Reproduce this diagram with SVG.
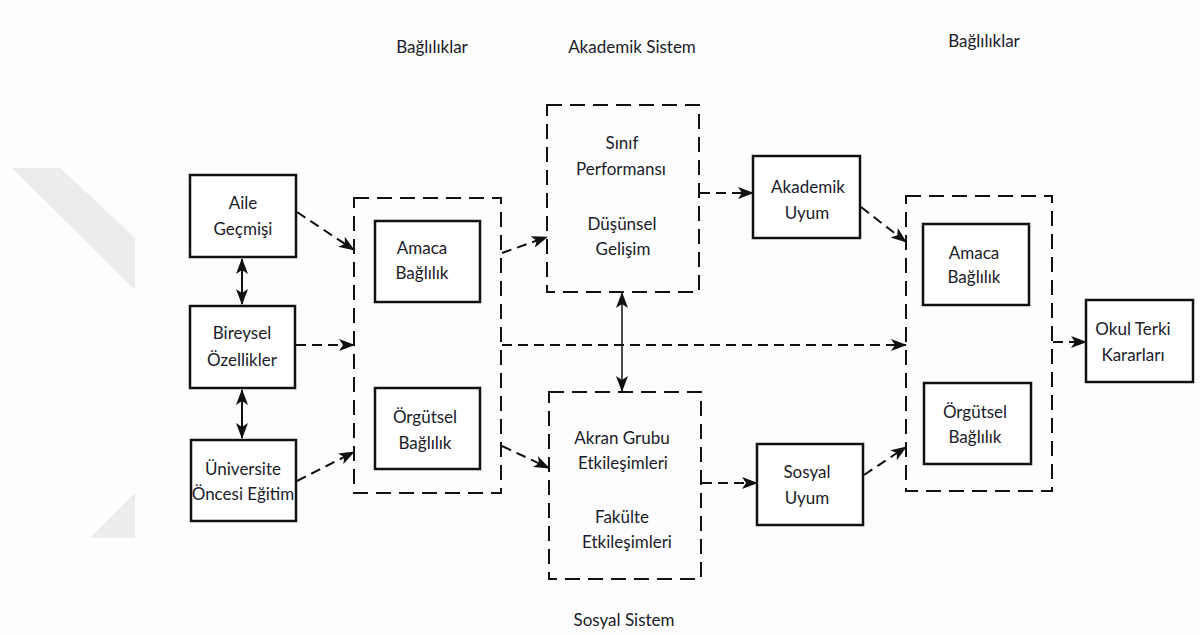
<svg xmlns="http://www.w3.org/2000/svg" width="1200" height="635" viewBox="0 0 1200 635">
<style>
.bg{fill:#fdfdfd}
.wm{fill:#ececec}
.box{fill:#ffffff;stroke:#111;stroke-width:2.5}
.cont{fill:none;stroke:#111;stroke-width:2;stroke-dasharray:15 8}
.dash{fill:none;stroke:#111;stroke-width:2;stroke-dasharray:10 6}
.solid{fill:none;stroke:#111;stroke-width:2}
.thin{fill:none;stroke:#111;stroke-width:1.5}
text{font-family:Lato,"Open Sans","Liberation Sans",sans-serif;font-size:17px;fill:#1b1b2a;text-anchor:middle}
</style>
<defs>
<marker id="ah" viewBox="0 0 16 12" markerWidth="16" markerHeight="12" refX="15" refY="6" orient="auto-start-reverse" markerUnits="userSpaceOnUse">
<path d="M0,0 L16,6 L0,12 L4,6 z" fill="#111"/>
</marker>
</defs>
<rect class="bg" x="0" y="0" width="1200" height="635"/>
<g id="watermark">
<polygon class="wm" points="12,168 60,168 135,238 135,290"/>
<polygon class="wm" points="90,538 135,493 135,538"/>
</g>

<g id="headings">
<text x="432" y="53">Bağlılıklar</text>
<text x="632" y="53">Akademik Sistem</text>
<text x="984" y="47">Bağlılıklar</text>
<text x="624" y="626">Sosyal Sistem</text>
</g>

<g id="aile">
<rect class="box" x="190" y="175" width="106" height="82"/>
<text x="243" y="209">Aile</text>
<text x="243" y="235">Geçmişi</text>
</g>
<g id="bireysel">
<rect class="box" x="190" y="306" width="105" height="82"/>
<text x="242" y="339">Bireysel</text>
<text x="242" y="366">Özellikler</text>
</g>
<g id="universite">
<rect class="box" x="191" y="440" width="105" height="81"/>
<text x="243" y="475">Üniversite</text>
<text x="243" y="500">Öncesi Eğitim</text>
</g>

<g id="baglilik-sol">
<rect class="cont" x="354" y="198" width="147" height="295"/>
<g id="amaca-sol">
<rect class="box" x="375" y="221" width="105" height="81"/>
<text x="422" y="254">Amaca</text>
<text x="422" y="279">Bağlılık</text>
</g>
<g id="orgutsel-sol">
<rect class="box" x="375" y="388" width="105" height="81"/>
<text x="425" y="423">Örgütsel</text>
<text x="425" y="449">Bağlılık</text>
</g>
</g>

<g id="akademik-sistem">
<rect class="cont" x="547" y="105" width="152" height="187"/>
<text x="622" y="149">Sınıf</text>
<text x="621" y="175">Performansı</text>
<text x="622" y="230">Düşünsel</text>
<text x="623" y="255">Gelişim</text>
</g>

<g id="sosyal-sistem">
<rect class="cont" x="549" y="392" width="152" height="187"/>
<text x="622" y="444">Akran Grubu</text>
<text x="623" y="469">Etkileşimleri</text>
<text x="622" y="523">Fakülte</text>
<text x="627" y="548">Etkileşimleri</text>
</g>

<g id="akademik-uyum">
<rect class="box" x="753" y="156" width="107" height="82"/>
<text x="808" y="193">Akademik</text>
<text x="807" y="219">Uyum</text>
</g>

<g id="sosyal-uyum">
<rect class="box" x="757" y="444" width="106" height="81"/>
<text x="807" y="478">Sosyal</text>
<text x="807" y="504">Uyum</text>
</g>

<g id="baglilik-sag">
<rect class="cont" x="906" y="196" width="146" height="295"/>
<g id="amaca-sag">
<rect class="box" x="923" y="224" width="106" height="81"/>
<text x="974" y="259">Amaca</text>
<text x="974" y="283">Bağlılık</text>
</g>
<g id="orgutsel-sag">
<rect class="box" x="924" y="383" width="107" height="81"/>
<text x="975" y="418">Örgütsel</text>
<text x="975" y="443">Bağlılık</text>
</g>
</g>

<g id="okul-terki">
<rect class="box" x="1086" y="300" width="107" height="82"/>
<text x="1133" y="335">Okul Terki</text>
<text x="1133" y="361">Kararları</text>
</g>

<g id="connectors">
<line class="solid" x1="242" y1="259" x2="242" y2="304" marker-start="url(#ah)" marker-end="url(#ah)"/>
<line class="solid" x1="242" y1="390" x2="242" y2="438" marker-start="url(#ah)" marker-end="url(#ah)"/>
<line class="dash" x1="297" y1="212" x2="354" y2="250" marker-end="url(#ah)"/>
<line class="dash" x1="296" y1="345" x2="354" y2="345" marker-end="url(#ah)"/>
<line class="dash" x1="297" y1="481" x2="354" y2="452" marker-end="url(#ah)"/>
<line class="dash" x1="502" y1="253" x2="547" y2="237" marker-end="url(#ah)"/>
<line class="dash" x1="502" y1="446" x2="549" y2="468" marker-end="url(#ah)"/>
<line class="dash" x1="502" y1="345" x2="906" y2="345" marker-end="url(#ah)"/>
<line class="thin" x1="622" y1="293" x2="622" y2="391" marker-start="url(#ah)" marker-end="url(#ah)"/>
<line class="dash" x1="700" y1="193" x2="753" y2="193" marker-end="url(#ah)"/>
<line class="dash" x1="702" y1="483" x2="757" y2="483" marker-end="url(#ah)"/>
<line class="dash" x1="861" y1="207" x2="906" y2="242" marker-end="url(#ah)"/>
<line class="dash" x1="864" y1="475" x2="906" y2="447" marker-end="url(#ah)"/>
<line class="dash" x1="1053" y1="342" x2="1086" y2="342" marker-end="url(#ah)"/>
</g>
</svg>
